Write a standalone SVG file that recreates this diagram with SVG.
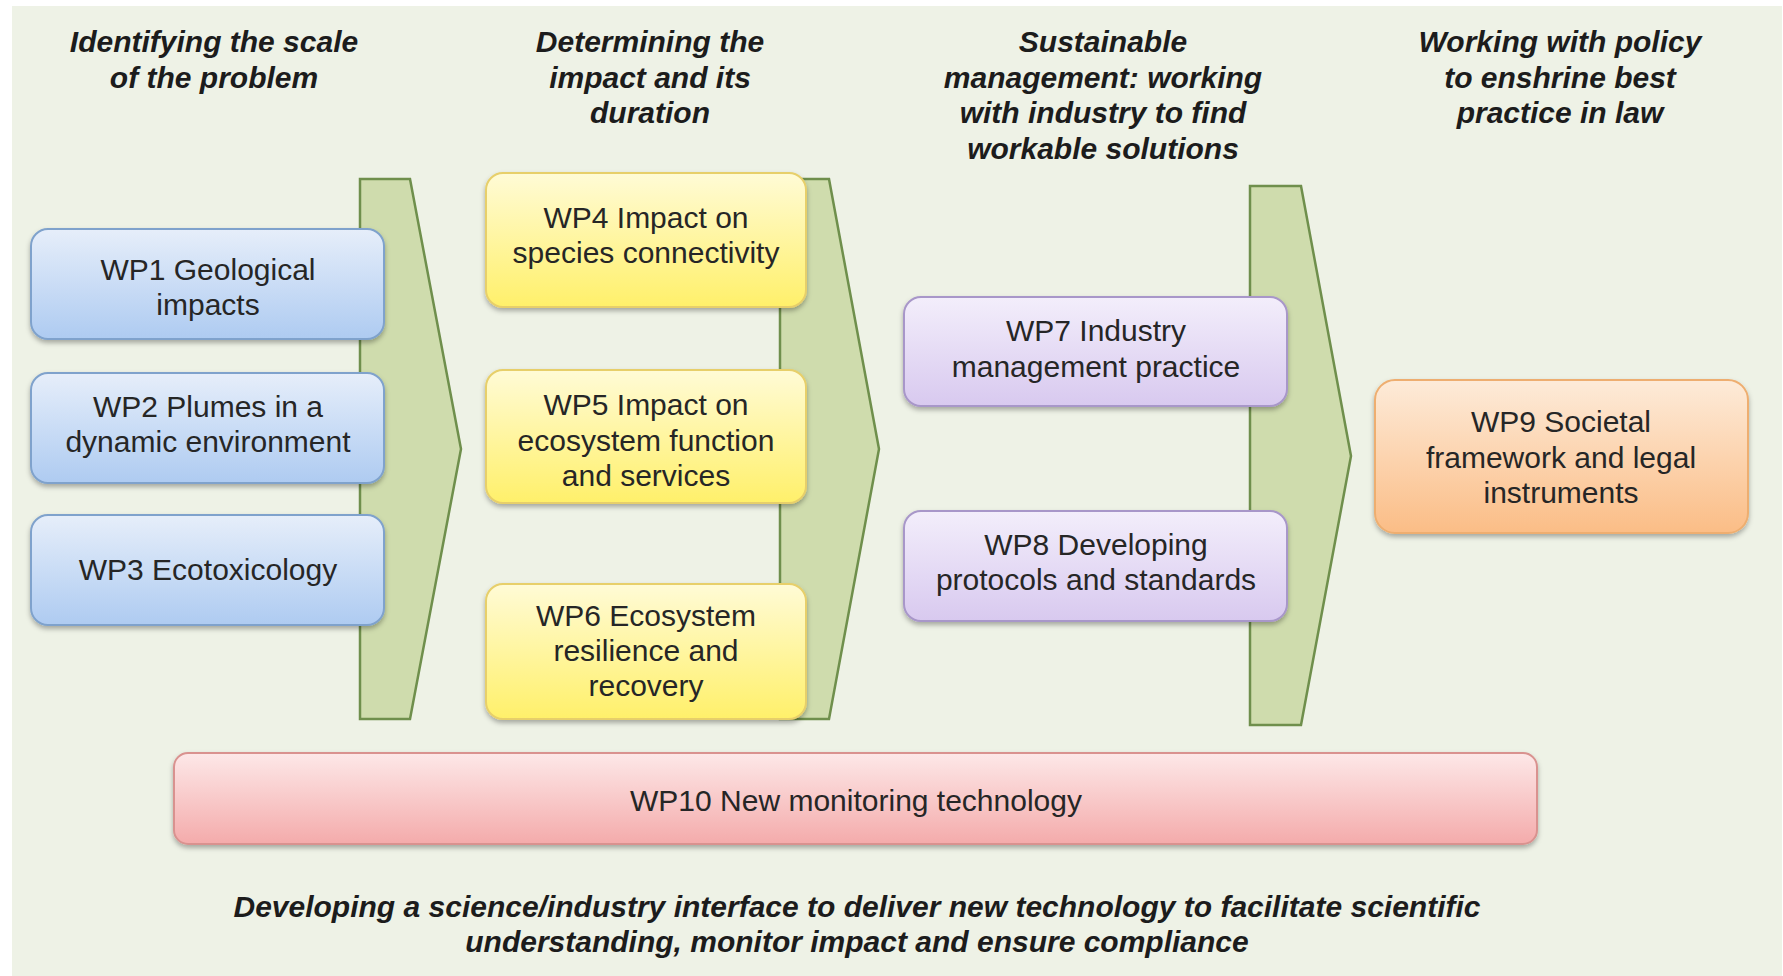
<svg xmlns="http://www.w3.org/2000/svg" width="1783" height="976" viewBox="0 0 1783 976">
<defs>
<style>
.hdr{font-family:"Liberation Sans",Arial,sans-serif;font-size:30px;font-weight:bold;font-style:italic;fill:#1c1c1c;text-anchor:middle}
.lbl{font-family:"Liberation Sans",Arial,sans-serif;font-size:30px;fill:#262626;text-anchor:middle}
.chev{fill:#cfdcad;stroke:#6f8f4c;stroke-width:2.5;stroke-linejoin:miter}
.blue{fill:url(#gBlue);stroke:#7fa2cc;stroke-width:2}
.yel{fill:url(#gYel);stroke:#e7cf6a;stroke-width:2}
.pur{fill:url(#gPur);stroke:#a897c9;stroke-width:2}
.org{fill:url(#gOrg);stroke:#eeae70;stroke-width:2}
.pnk{fill:url(#gPnk);stroke:#d9928f;stroke-width:2}
</style>
<linearGradient id="gBlue" x1="0" y1="0" x2="0" y2="1"><stop offset="0" stop-color="#e6eefa"/><stop offset="1" stop-color="#aecbf1"/></linearGradient>
<linearGradient id="gYel" x1="0" y1="0" x2="0" y2="1"><stop offset="0" stop-color="#fffbd6"/><stop offset="1" stop-color="#fff06a"/></linearGradient>
<linearGradient id="gPur" x1="0" y1="0" x2="0" y2="1"><stop offset="0" stop-color="#f3eefb"/><stop offset="1" stop-color="#d8c9ef"/></linearGradient>
<linearGradient id="gOrg" x1="0" y1="0" x2="0" y2="1"><stop offset="0" stop-color="#fdebd9"/><stop offset="1" stop-color="#fbbd86"/></linearGradient>
<linearGradient id="gPnk" x1="0" y1="0" x2="0" y2="1"><stop offset="0" stop-color="#fde8e8"/><stop offset="1" stop-color="#f4abab"/></linearGradient>
<filter id="sh" x="-5%" y="-10%" width="110%" height="130%"><feDropShadow dx="0" dy="3" stdDeviation="2.5" flood-color="#000" flood-opacity="0.3"/></filter>
</defs>
<rect x="0" y="0" width="1783" height="976" fill="#ffffff"/>
<rect x="12" y="6" width="1770" height="970" fill="#eef2e6"/>

<g id="headers">
<text class="hdr" x="214" y="52">Identifying the scale</text>
<text class="hdr" x="214" y="88">of the problem</text>
<text class="hdr" x="650" y="52">Determining the</text>
<text class="hdr" x="650" y="88">impact and its</text>
<text class="hdr" x="650" y="123">duration</text>
<text class="hdr" x="1103" y="52">Sustainable</text>
<text class="hdr" x="1103" y="88">management: working</text>
<text class="hdr" x="1103" y="123">with industry to find</text>
<text class="hdr" x="1103" y="159">workable solutions</text>
<text class="hdr" x="1560" y="52">Working with policy</text>
<text class="hdr" x="1560" y="88">to enshrine best</text>
<text class="hdr" x="1560" y="123">practice in law</text>
</g>

<g id="connectors">
<polygon class="chev" points="360,179 410,179 461,449 410,719 360,719"/>
<polygon class="chev" points="780,179 829,179 879,449 829,719 780,719"/>
<polygon class="chev" points="1250,186 1301,186 1351,456 1301,725 1250,725"/>
</g>

<g id="wp1"><rect class="blue" x="31" y="229" width="353" height="110" rx="17" filter="url(#sh)"/>
<text class="lbl" x="208" y="280">WP1 Geological</text><text class="lbl" x="208" y="315">impacts</text></g>
<g id="wp2"><rect class="blue" x="31" y="373" width="353" height="110" rx="17" filter="url(#sh)"/>
<text class="lbl" x="208" y="417">WP2 Plumes in a</text><text class="lbl" x="208" y="452">dynamic environment</text></g>
<g id="wp3"><rect class="blue" x="31" y="515" width="353" height="110" rx="17" filter="url(#sh)"/>
<text class="lbl" x="208" y="580">WP3 Ecotoxicology</text></g>

<g id="wp4"><rect class="yel" x="486" y="173" width="320" height="134" rx="17" filter="url(#sh)"/>
<text class="lbl" x="646" y="228">WP4 Impact on</text><text class="lbl" x="646" y="263">species connectivity</text></g>
<g id="wp5"><rect class="yel" x="486" y="370" width="320" height="133" rx="17" filter="url(#sh)"/>
<text class="lbl" x="646" y="415">WP5 Impact on</text><text class="lbl" x="646" y="451">ecosystem function</text><text class="lbl" x="646" y="486">and services</text></g>
<g id="wp6"><rect class="yel" x="486" y="584" width="320" height="135" rx="17" filter="url(#sh)"/>
<text class="lbl" x="646" y="626">WP6 Ecosystem</text><text class="lbl" x="646" y="661">resilience and</text><text class="lbl" x="646" y="696">recovery</text></g>

<g id="wp7"><rect class="pur" x="904" y="297" width="383" height="109" rx="17" filter="url(#sh)"/>
<text class="lbl" x="1096" y="341">WP7 Industry</text><text class="lbl" x="1096" y="377">management practice</text></g>
<g id="wp8"><rect class="pur" x="904" y="511" width="383" height="110" rx="17" filter="url(#sh)"/>
<text class="lbl" x="1096" y="555">WP8 Developing</text><text class="lbl" x="1096" y="590">protocols and standards</text></g>

<g id="wp9"><rect class="org" x="1375" y="380" width="373" height="153" rx="20" filter="url(#sh)"/>
<text class="lbl" x="1561" y="432">WP9 Societal</text><text class="lbl" x="1561" y="468">framework and legal</text><text class="lbl" x="1561" y="503">instruments</text></g>

<g id="wp10"><rect class="pnk" x="174" y="753" width="1363" height="91" rx="14" filter="url(#sh)"/>
<text class="lbl" x="856" y="811">WP10 New monitoring technology</text></g>

<g id="footer">
<text class="hdr" x="857" y="917">Developing a science/industry interface to deliver new technology to facilitate scientific</text>
<text class="hdr" x="857" y="952">understanding, monitor impact and ensure compliance</text>
</g>
</svg>
